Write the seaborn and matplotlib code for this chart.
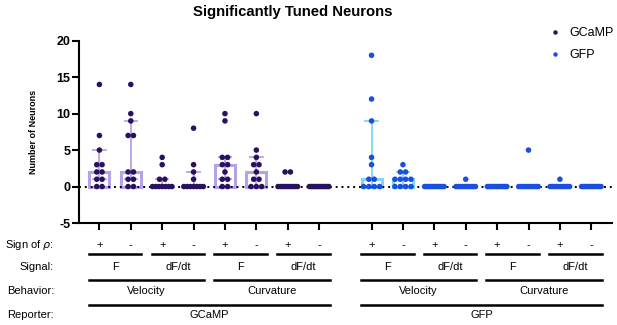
import numpy as np
import pandas as pd
import matplotlib
matplotlib.use("Agg")
import matplotlib.pyplot as plt
import matplotlib.transforms as mtransforms
from matplotlib.lines import Line2D
import seaborn as sns

# ---------------- data ----------------
reporters = ["GCaMP", "GFP"]
behaviors = ["Velocity", "Curvature"]
signals = ["F", "dF/dt"]
signs = ["+", "-"]

gcamp_values = [
    [14, 7, 5, 3, 3, 2, 2, 1, 1, 0, 0],      # Velocity F +
    [14, 10, 9, 7, 7, 2, 2, 1, 1, 0, 0],     # Velocity F -
    [4, 3, 1, 1, 0, 0, 0, 0, 0, 0, 0],       # Velocity dF/dt +
    [8, 3, 2, 1, 0, 0, 0, 0, 0, 0, 0],       # Velocity dF/dt -
    [10, 9, 4, 4, 3, 3, 2, 1, 1, 0, 0],      # Curvature F +
    [10, 5, 4, 3, 3, 2, 1, 1, 0, 0, 0],      # Curvature F -
    [2, 2, 0, 0, 0, 0, 0, 0, 0, 0, 0],       # Curvature dF/dt +
    [0, 0, 0, 0, 0, 0, 0, 0, 0, 0, 0],       # Curvature dF/dt -
]
gfp_values = [
    [18, 12, 9, 4, 3, 1, 1, 0, 0, 0, 0],
    [3, 2, 2, 1, 1, 1, 1, 0, 0, 0, 0],
    [0, 0, 0, 0, 0, 0, 0, 0, 0, 0, 0],
    [1, 0, 0, 0, 0, 0, 0, 0, 0, 0, 0],
    [0, 0, 0, 0, 0, 0, 0, 0, 0, 0, 0],
    [5, 0, 0, 0, 0, 0, 0, 0, 0, 0, 0],
    [1, 0, 0, 0, 0, 0, 0, 0, 0, 0, 0],
    [0, 0, 0, 0, 0, 0, 0, 0, 0, 0, 0],
]
yticks = [-5, 0, 5, 10, 15, 20]

dot_colors = {"GCaMP": "#2a1160", "GFP": "#1b4fe0"}
bar_colors = {"GCaMP": "#b6a2e8", "GFP": "#7fd6f6"}

# ---------------- layout of groups ----------------
group_gap = 1.67
dot_step = 0.17     # horizontal spacing between equal-valued dots (x units)
max_span = 0.62     # widest spread of a row of dots (x units)

rows = []
positions = {}
for r_i, (rep, vals) in enumerate(zip(reporters, [gcamp_values, gfp_values])):
    for k, v in enumerate(vals):
        b = behaviors[k // 4]
        s = signals[(k // 2) % 2]
        sg = signs[k % 2]
        x = r_i * (7 + group_gap) + k
        positions[(rep, k)] = x
        counts = pd.Series(v).value_counts()
        seen = {}
        for val in v:
            c = counts[val]
            step = dot_step if c < 2 else min(dot_step, max_span / (c - 1))
            i = seen.get(val, 0)
            seen[val] = i + 1
            off = (i - (c - 1) / 2) * step
            rows.append({"x": x, "xd": x + off, "Reporter": rep,
                         "Behavior": b, "Signal": s, "Sign": sg, "n": val})
df = pd.DataFrame(rows)

# ---------------- figure ----------------
W, H = 617, 325
fig = plt.figure(figsize=(W / 100, H / 100), dpi=100)
plt.rcParams["font.family"] = ["Liberation Sans", "DejaVu Sans"]
ax = fig.add_axes([79 / W, 1 - 223 / H, 533 / W, (223 - 40.7) / H])


def iqr(v):
    return (np.percentile(v, 25, method="weibull"),
            np.percentile(v, 75, method="weibull"))


sns.barplot(data=df, x="x", y="n", hue="Reporter", palette=bar_colors,
            native_scale=True, estimator="median", errorbar=iqr,
            fill=False, dodge=False, width=0.64, linewidth=2.2,
            capsize=0.4, err_kws={"linewidth": 1.3}, legend=False, ax=ax)

ax.axhline(0, color="black", linestyle=(0, (1, 2)), linewidth=1.4, zorder=3)

sns.scatterplot(data=df, x="xd", y="n", hue="Reporter", palette=dot_colors,
                s=16, linewidth=0, legend=False, ax=ax, zorder=4)

ax.set_xlim(-0.65, 7 + group_gap + 7 + 0.66)
ax.set_ylim(-5, 20)
ax.set_yticks(yticks)
ax.set_yticklabels([str(t) for t in yticks], fontweight="bold", fontsize=9)
xs = [positions[(r, k)] for r in reporters for k in range(8)]
ax.set_xticks(xs)
ax.set_xticklabels([""] * len(xs))
ax.set_xlabel("")
ax.set_ylabel("Number of Neurons", fontweight="bold", fontsize=6.5)
ax.yaxis.set_label_coords(-0.077, 0.5)
for side in ["top", "right"]:
    ax.spines[side].set_visible(False)
for side in ["left", "bottom"]:
    ax.spines[side].set_linewidth(1.5)
ax.tick_params(axis="both", direction="out", length=5, width=1.5, pad=1)
ax.set_facecolor("white")

fig.text(0.475, 0.963, "Significantly Tuned Neurons", ha="center",
         va="center", fontsize=10.7, fontweight="bold")

handles = [Line2D([], [], marker="o", linestyle="", markersize=3.2,
                  markerfacecolor=dot_colors[r], markeredgewidth=0)
           for r in reporters]
fig.legend(handles, reporters, loc="center left",
           bbox_to_anchor=(536 / W, 1 - 44 / H), frameon=False,
           fontsize=9, handletextpad=0.6, labelspacing=0.8,
           handlelength=1.2)

# ---------------- hierarchical category labels ----------------
tr = mtransforms.blended_transform_factory(ax.transData, fig.transFigure)
fy = lambda py: 1 - py / H
txt = dict(fontsize=8, va="center", ha="center", transform=tr)
ext = 0.34
lw = 1.8
for rep in reporters:
    xr = [positions[(rep, k)] for k in range(8)]
    for k, x in enumerate(xr):
        fig.text(x, fy(245), signs[k % 2], **txt)
    for p in range(4):
        a, b = xr[2 * p], xr[2 * p + 1]
        fig.add_artist(Line2D([a - ext, b + ext], [fy(254), fy(254)],
                              color="black", lw=lw, transform=tr))
        fig.text((a + b) / 2, fy(267), signals[p % 2], **txt)
    for q in range(2):
        a, b = xr[4 * q], xr[4 * q + 3]
        fig.add_artist(Line2D([a - ext, b + ext], [fy(280), fy(280)],
                              color="black", lw=lw, transform=tr))
        fig.text((a + b) / 2, fy(291), behaviors[q], **txt)
    a, b = xr[0], xr[-1]
    fig.add_artist(Line2D([a - ext, b + ext], [fy(304.5), fy(304.5)],
                          color="black", lw=lw, transform=tr))
    fig.text((a + b) / 2, fy(315), rep, **txt)

for label, py in [("Sign of $\\rho$:", 245), ("Signal:", 267),
                  ("Behavior:", 291), ("Reporter:", 315)]:
    fig.text(54 / W, fy(py), label, fontsize=8, ha="right", va="center")

fig.savefig("out.png", dpi=100, facecolor="white")
